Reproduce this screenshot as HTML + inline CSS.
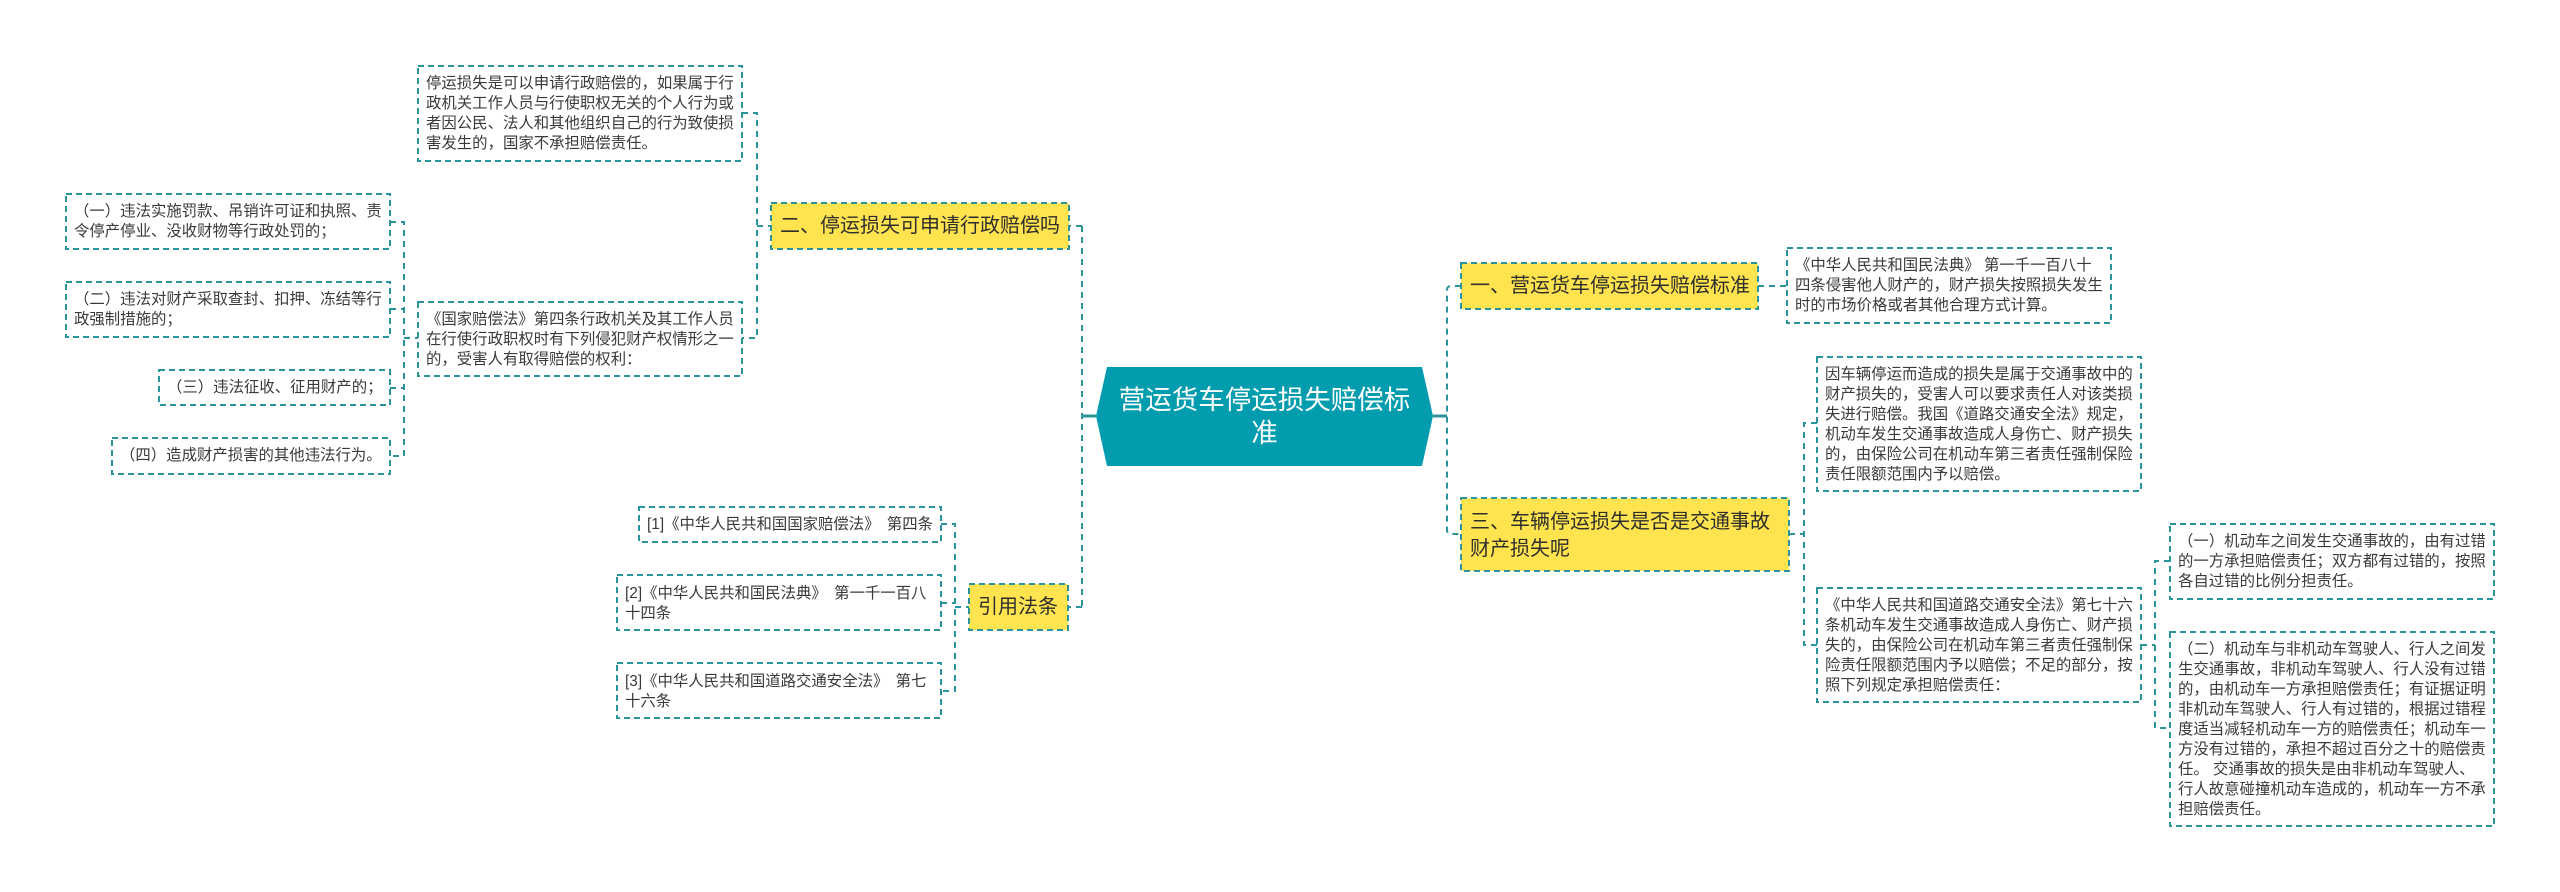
<!DOCTYPE html>
<html><head><meta charset="utf-8"><style>
html,body{margin:0;padding:0;background:#fff;width:2560px;height:892px;overflow:hidden}
body{position:relative;font-family:"Liberation Sans","Noto Sans CJK SC",sans-serif}
svg{position:absolute;left:0;top:0}
.t{position:absolute;font-size:15.4px;line-height:20px;color:#3a3a3a;white-space:nowrap;text-spacing-trim:space-all}
.w{word-spacing:3px}
.y{position:absolute;font-size:20px;line-height:26.7px;color:#2e2e2e;white-space:nowrap;text-spacing-trim:space-all}
.c{position:absolute;font-size:26.5px;line-height:33px;color:#fff;white-space:nowrap;text-align:center;left:1096px;width:337px;top:384px;text-spacing-trim:space-all}
</style></head><body>
<svg width="2560" height="892" viewBox="0 0 2560 892" fill="none">
<g stroke="#2a939c" stroke-width="2" stroke-dasharray="6 5">
<path d="M1082 226H1070M1082 607H1068M1082 226V607"/>
<path d="M742 113H757V338H742M757 226H771"/>
<path d="M390 222H404V456H390M390 309H404M390 388H404M404 338H418"/>
<path d="M941 524H955V691H941M941 603H955M955 607H969"/>
<path d="M1461 286H1451Q1447 286 1447 290V530Q1447 534 1451 534H1461"/>
<path d="M1758 286H1787"/>
<path d="M1789 534H1804M1817 423H1804V645H1817"/>
<path d="M2141 645H2155M2170 561H2155V728H2170"/>
</g>
<path d="M1082 416H1096M1433 416H1447" stroke="#2a939c" stroke-width="3"/>
<polygon points="1107,367 1422,367 1433,416 1422,466 1107,466 1096,416" fill="#019CAE"/>
<g stroke="#2a939c" stroke-width="2" stroke-dasharray="6 4" fill="#fff">
<rect x="418" y="66" width="324" height="95"/>
<rect x="418" y="302" width="324" height="74"/>
<rect x="66" y="194" width="324" height="55"/>
<rect x="66" y="282" width="324" height="55"/>
<rect x="159" y="370" width="231" height="35"/>
<rect x="112" y="438" width="278" height="36"/>
<rect x="639" y="507" width="302" height="35"/>
<rect x="617" y="575" width="324" height="55"/>
<rect x="617" y="663" width="324" height="55"/>
<rect x="1787" y="248" width="324" height="75"/>
<rect x="1817" y="357" width="324" height="134"/>
<rect x="1817" y="588" width="324" height="114"/>
<rect x="2170" y="524" width="324" height="75"/>
<rect x="2170" y="632" width="324" height="194"/>
<g fill="#FFE44F">
<rect x="771" y="203" width="298" height="46"/>
<rect x="969" y="584" width="99" height="46"/>
<rect x="1461" y="263" width="297" height="46"/>
<rect x="1461" y="498" width="328" height="73"/>
</g>
</g>
</svg>
<div class="c">营运货车停运损失赔偿标<br>准</div>
<div class="y" style="left:780px;top:213px">二、停运损失可申请行政赔偿吗</div>
<div class="y" style="left:978px;top:594px">引用法条</div>
<div class="y" style="left:1470px;top:273px">一、营运货车停运损失赔偿标准</div>
<div class="y" style="left:1470px;top:509px">三、车辆停运损失是否是交通事故<br>财产损失呢</div>
<div class="t" style="left:426px;top:74px">停运损失是可以申请行政赔偿的，如果属于行<br>政机关工作人员与行使职权无关的个人行为或<br>者因公民、法人和其他组织自己的行为致使损<br>害发生的，国家不承担赔偿责任。</div>
<div class="t" style="left:426px;top:310px">《国家赔偿法》第四条行政机关及其工作人员<br>在行使行政职权时有下列侵犯财产权情形之一<br>的，受害人有取得赔偿的权利：</div>
<div class="t" style="left:74px;top:202px">（一）违法实施罚款、吊销许可证和执照、责<br>令停产停业、没收财物等行政处罚的；</div>
<div class="t" style="left:74px;top:290px">（二）违法对财产采取查封、扣押、冻结等行<br>政强制措施的；</div>
<div class="t" style="left:167px;top:378px">（三）违法征收、征用财产的；</div>
<div class="t" style="left:120px;top:446px">（四）造成财产损害的其他违法行为。</div>
<div class="t w" style="left:647px;top:515px">[1]《中华人民共和国国家赔偿法》 第四条</div>
<div class="t w" style="left:625px;top:584px">[2]《中华人民共和国民法典》 第一千一百八<br>十四条</div>
<div class="t w" style="left:625px;top:672px">[3]《中华人民共和国道路交通安全法》 第七<br>十六条</div>
<div class="t" style="left:1795px;top:256px">《中华人民共和国民法典》 第一千一百八十<br>四条侵害他人财产的，财产损失按照损失发生<br>时的市场价格或者其他合理方式计算。</div>
<div class="t" style="left:1825px;top:365px">因车辆停运而造成的损失是属于交通事故中的<br>财产损失的，受害人可以要求责任人对该类损<br>失进行赔偿。我国《道路交通安全法》规定，<br>机动车发生交通事故造成人身伤亡、财产损失<br>的，由保险公司在机动车第三者责任强制保险<br>责任限额范围内予以赔偿。</div>
<div class="t" style="left:1825px;top:596px">《中华人民共和国道路交通安全法》第七十六<br>条机动车发生交通事故造成人身伤亡、财产损<br>失的，由保险公司在机动车第三者责任强制保<br>险责任限额范围内予以赔偿；不足的部分，按<br>照下列规定承担赔偿责任：</div>
<div class="t" style="left:2178px;top:532px">（一）机动车之间发生交通事故的，由有过错<br>的一方承担赔偿责任；双方都有过错的，按照<br>各自过错的比例分担责任。</div>
<div class="t" style="left:2178px;top:640px">（二）机动车与非机动车驾驶人、行人之间发<br>生交通事故，非机动车驾驶人、行人没有过错<br>的，由机动车一方承担赔偿责任；有证据证明<br>非机动车驾驶人、行人有过错的，根据过错程<br>度适当减轻机动车一方的赔偿责任；机动车一<br>方没有过错的，承担不超过百分之十的赔偿责<br>任。 交通事故的损失是由非机动车驾驶人、<br>行人故意碰撞机动车造成的，机动车一方不承<br>担赔偿责任。</div>
</body></html>
